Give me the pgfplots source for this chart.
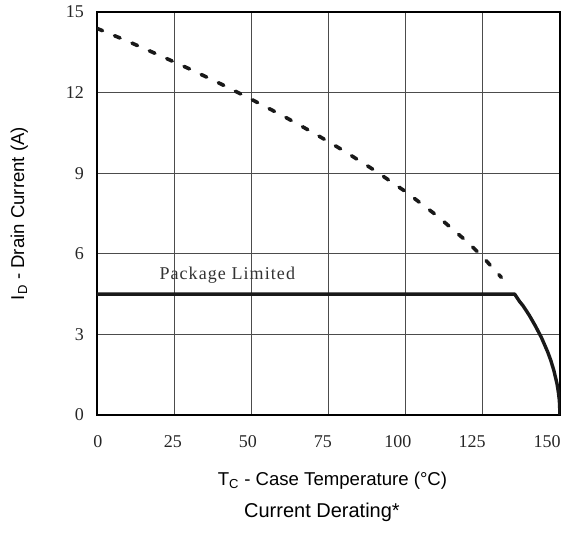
\documentclass[border=0pt]{standalone}
\usepackage{fontspec}
\setmainfont{Liberation Serif}
\newfontfamily\labelfont{Liberation Sans}
\usepackage{pgfplots}
\pgfplotsset{compat=1.18}

% safe-operating current limited by junction temperature (dashed) and by package (solid)
\pgfplotstableread{
T     I
0     14.39
10    13.91
20    13.40
30    12.88
40    12.33
50    11.75
60    11.15
70    10.51
80    9.83
90    9.10
100   8.31
110   7.43
120   6.44
125   5.88
131   5.12
}\thermallimit

\pgfplotstableread{
T      I
0      4.5
135.3  4.5
137    4.21
138    4.07
140    3.72
142    3.32
144    2.88
146    2.35
147    2.04
148    1.66
149    1.18
149.5  0.83
149.8  0.53
150    0.0
}\packagelimit

\begin{document}
\begin{tikzpicture}
\begin{axis}[
  scale only axis,
  width=463pt, height=403pt,
  xmin=0, xmax=150, ymin=0, ymax=15,
  xtick={0,25,...,150},
  xticklabels={},
  ytick={0,3,...,15},
  extra x ticks={0.3,24.6,48.9,73.2,97.5,121.5,145.8},
  extra x tick labels={0,25,50,75,100,125,150},
  extra x tick style={grid=none, major tick length=0pt,
    xticklabel style={anchor=center, yshift=-27pt}},
  grid=major,
  major grid style={draw=black!70, line width=1.2pt},
  major tick length=0pt,
  axis line style={line width=2.4pt},
  /pgf/number format/assume math mode=true,
  tick label style={font=\fontsize{18}{20}\selectfont, text=black!85},
  yticklabel style={anchor=east, inner sep=0pt, xshift=-13pt},
  ylabel={I\textsubscript{D} - Drain Current (A)},
  ylabel style={font=\labelfont\fontsize{18.6}{20}\selectfont,
    at={(axis description cs:-0.168,0.5)}, anchor=center},
  xlabel={T\textsubscript{C} - Case Temperature (°C)},
  xlabel style={font=\labelfont\fontsize{18.6}{20}\selectfont,
    at={(axis description cs:0.5,0)}, anchor=center, yshift=-66pt, xshift=4pt},
  clip=true,
]
\addplot[black!90, line width=3.6pt, dash pattern=on 6pt off 13pt, line cap=round]
  table[x=T, y=I] {\thermallimit};
\addplot[black!90, line width=3.4pt, line join=round]
  table[x=T, y=I] {\packagelimit};
\node[font=\fontsize{18}{20}\selectfont\addfontfeatures{LetterSpace=6}, text=black!80]
  at (axis cs:42.2,5.2) {Package Limited};
\end{axis}
\node[font=\labelfont\fontsize{20}{22}\selectfont] at (225pt,-97pt) {Current Derating*};
\pgfresetboundingbox
\path (-97pt,-118pt) rectangle (465pt,415pt);
\end{tikzpicture}
\end{document}
